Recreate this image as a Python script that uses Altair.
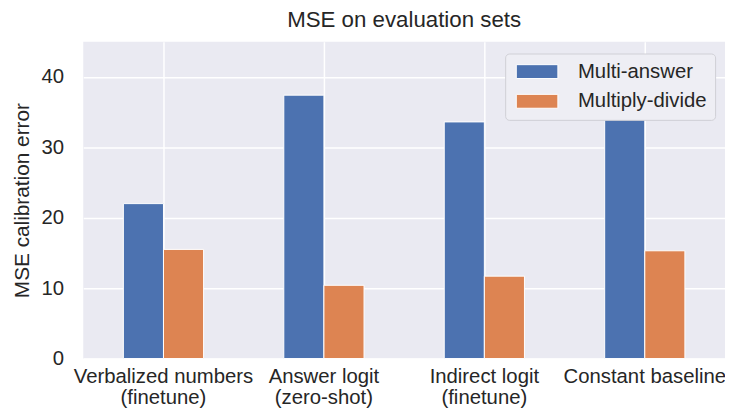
import altair as alt
import pandas as pd

categories = ["Verbalized numbers|(finetune)", "Answer logit|(zero-shot)",
              "Indirect logit|(finetune)", "Constant baseline"]
series = ["Multi-answer", "Multiply-divide"]
multi_answer = [22.0, 37.4, 33.6, 34.1]
multiply_divide = [15.5, 10.4, 11.7, 15.3]
y_ticks = [0, 10, 20, 30, 40]

rows = []
for i, c in enumerate(categories):
    rows.append({"cat": c, "series": series[0], "value": multi_answer[i]})
    rows.append({"cat": c, "series": series[1], "value": multiply_divide[i]})
df = pd.DataFrame(rows)

FONT = "Liberation Sans"
TXT = "#262626"

chart = alt.Chart(df).mark_bar(stroke="white", strokeWidth=1).encode(
    x=alt.X("cat:N", sort=categories,
            scale=alt.Scale(paddingInner=0, paddingOuter=0),
            axis=alt.Axis(title=None, labelAngle=0, labelExpr="split(datum.label, '|')",
                          labelFontSize=20.5, labelColor=TXT, labelFont=FONT, labelLimit=400,
                          labelLineHeight=21.5, labelPadding=8, tickSize=0, domain=False,
                          grid=True, gridColor="white", gridWidth=1.5)),
    xOffset=alt.XOffset("series:N", sort=series,
                        scale=alt.Scale(paddingInner=0, paddingOuter=1)),
    y=alt.Y("value:Q", scale=alt.Scale(domain=[0, 45], nice=False),
            axis=alt.Axis(title="MSE calibration error", values=y_ticks,
                          titleFontSize=21, titleFont=FONT, titleFontWeight="normal",
                          titleColor=TXT, titlePadding=8,
                          labelFontSize=20.5, labelFont=FONT, labelColor=TXT,
                          labelPadding=20, tickSize=0, domain=False,
                          grid=True, gridColor="white", gridWidth=1.5)),
    color=alt.Color("series:N", sort=series,
                    scale=alt.Scale(domain=series, range=["#4C72B0", "#DD8452"]),
                    legend=alt.Legend(title=None, orient="none", legendX=426, legendY=12,
                                      fillColor="#EEEEF4", strokeColor="#CFCFD6",
                                      cornerRadius=4, padding=8,
                                      labelFontSize=20.5, labelFont=FONT, labelColor=TXT,
                                      symbolType="M-1,-1L5,-1L5,1L-1,1Z",
                                      symbolSize=196, symbolStrokeColor="white",
                                      symbolStrokeWidth=1, symbolOpacity=1,
                                      labelOffset=45, rowPadding=9)),
).properties(
    width=648, height=320,
    title=alt.Title("MSE on evaluation sets", fontSize=22.5, font=FONT,
                    fontWeight="normal", color=TXT, offset=10),
    autosize=alt.AutoSizeParams(type="none"),
    padding={"left": 76, "top": 32, "right": 0, "bottom": 51},
).configure_view(fill="#EAEAF2", stroke=None)

chart.save("out.html", embed_options={"renderer": "svg", "actions": False})
